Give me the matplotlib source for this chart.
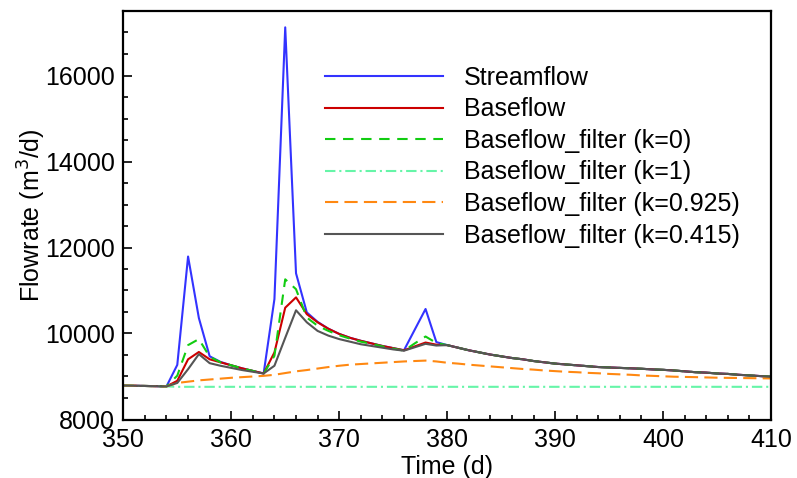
import matplotlib
matplotlib.use('Agg')
import matplotlib.pyplot as plt
from matplotlib.ticker import MultipleLocator

plt.rcParams['font.family'] = ['Liberation Sans', 'DejaVu Sans']
plt.rcParams['lines.scale_dashes'] = False

days = list(range(350, 411))

# recession limb shared by every curve after the last event (380-410)
recession = [9730, 9670, 9610, 9560, 9510, 9470, 9430, 9400, 9360, 9330,
             9300, 9280, 9260, 9240, 9220, 9210, 9200, 9190, 9180, 9165,
             9155, 9140, 9120, 9100, 9090, 9070, 9060, 9040, 9025, 9010,
             8995]

streamflow = [8790, 8785, 8780, 8775, 8770,
              9270, 11790, 10360, 9470, 9340, 9260, 9190, 9130, 9070,
              10800, 17120, 11400, 10490, 10270, 10110, 9990, 9900, 9830,
              9770, 9710, 9660, 9610, 10090, 10570, 9800] + recession

baseflow = [8790, 8785, 8780, 8775, 8770,
            8900, 9400, 9570, 9400, 9330, 9260, 9190, 9130, 9070,
            9560, 10600, 10840, 10450, 10260, 10110, 9990, 9900, 9830,
            9770, 9710, 9660, 9610, 9700, 9790, 9740] + recession

filter_k0 = [8790, 8785, 8780, 8775, 8770,
             9020, 9730, 9870, 9460, 9330, 9260, 9190, 9130, 9070,
             9480, 11260, 11030, 10370, 10180, 10060, 9960, 9880, 9810,
             9760, 9700, 9650, 9600, 9770, 9930, 9780] + recession

filter_k1 = [8790, 8785, 8780, 8775, 8770] + [8760] * 56

filter_k0925 = [8790, 8785, 8780, 8775, 8770,
                8850, 8880, 8910, 8930, 8950, 8970, 8985, 9000, 9015,
                9040, 9080, 9120, 9150, 9185, 9220, 9250, 9275, 9290,
                9305, 9320, 9335, 9350, 9360, 9370, 9350,
                9320, 9300, 9275, 9255, 9235, 9215, 9195, 9175, 9160, 9140,
                9125, 9110, 9100, 9085, 9075, 9060, 9050, 9040, 9025, 9015,
                9005, 8995, 8990, 8985, 8978, 8972, 8968, 8965, 8962, 8958,
                8955]

filter_k0415 = [8790, 8785, 8780, 8775, 8770,
                8850, 9170, 9520, 9310, 9250, 9200, 9150, 9110, 9070,
                9250, 9900, 10540, 10260, 10060, 9950, 9870, 9810, 9750,
                9710, 9670, 9630, 9600, 9680, 9760, 9720] + recession

labels = ['Streamflow', 'Baseflow', 'Baseflow_filter (k=0)',
          'Baseflow_filter (k=1)', 'Baseflow_filter (k=0.925)',
          'Baseflow_filter (k=0.415)']

fig = plt.figure(figsize=(7.97, 4.78), dpi=100)
ax = fig.add_axes([123.3 / 797, 1 - 419.5 / 478, (771 - 123.3) / 797,
                   (419.5 - 11) / 478])

ax.plot(days, streamflow, color='#3333ff', lw=1.5, label=labels[0])
ax.plot(days, baseflow, color='#cc0000', lw=1.5, label=labels[1])
ax.plot(days, filter_k0, color='#11cc11', lw=1.5,
        linestyle=(0, (7.5, 5.5)), label=labels[2])
ax.plot(days, filter_k1, color='#66f5a8', lw=1.5,
        linestyle=(0, (7.5, 2.8, 1.5, 2.8)), label=labels[3])
ax.plot(days, filter_k0925, color='#ff8811', lw=1.5,
        linestyle=(0, (9.5, 4.5)), label=labels[4])
ax.plot(days, filter_k0415, color='#555555', lw=1.5, label=labels[5])

ax.set_xlim(350, 410)
ax.set_ylim(8000, 17500)
ax.xaxis.set_major_locator(MultipleLocator(10))
ax.xaxis.set_minor_locator(MultipleLocator(2))
ax.yaxis.set_major_locator(MultipleLocator(2000))
ax.yaxis.set_minor_locator(MultipleLocator(500))
ax.tick_params(which='both', direction='in', labelsize=18, width=1.2,
               top=False, right=False)
ax.tick_params(which='major', length=6.5, pad=6)
ax.tick_params(which='minor', length=3.6)
for side in ax.spines.values():
    side.set_linewidth(1.6)

ax.set_xlabel('Time (d)', fontsize=18, labelpad=2)
ax.set_ylabel(r'Flowrate (m$^3$/d)', fontsize=18, labelpad=-2)

ax.legend(loc='upper left', bbox_to_anchor=(325 / 797, 1 - 66 / 478),
          bbox_transform=fig.transFigure, frameon=False, fontsize=18,
          borderpad=0, borderaxespad=0, handlelength=4.72,
          handletextpad=0.84, labelspacing=0.30)

fig.savefig('out.png', dpi=100)
